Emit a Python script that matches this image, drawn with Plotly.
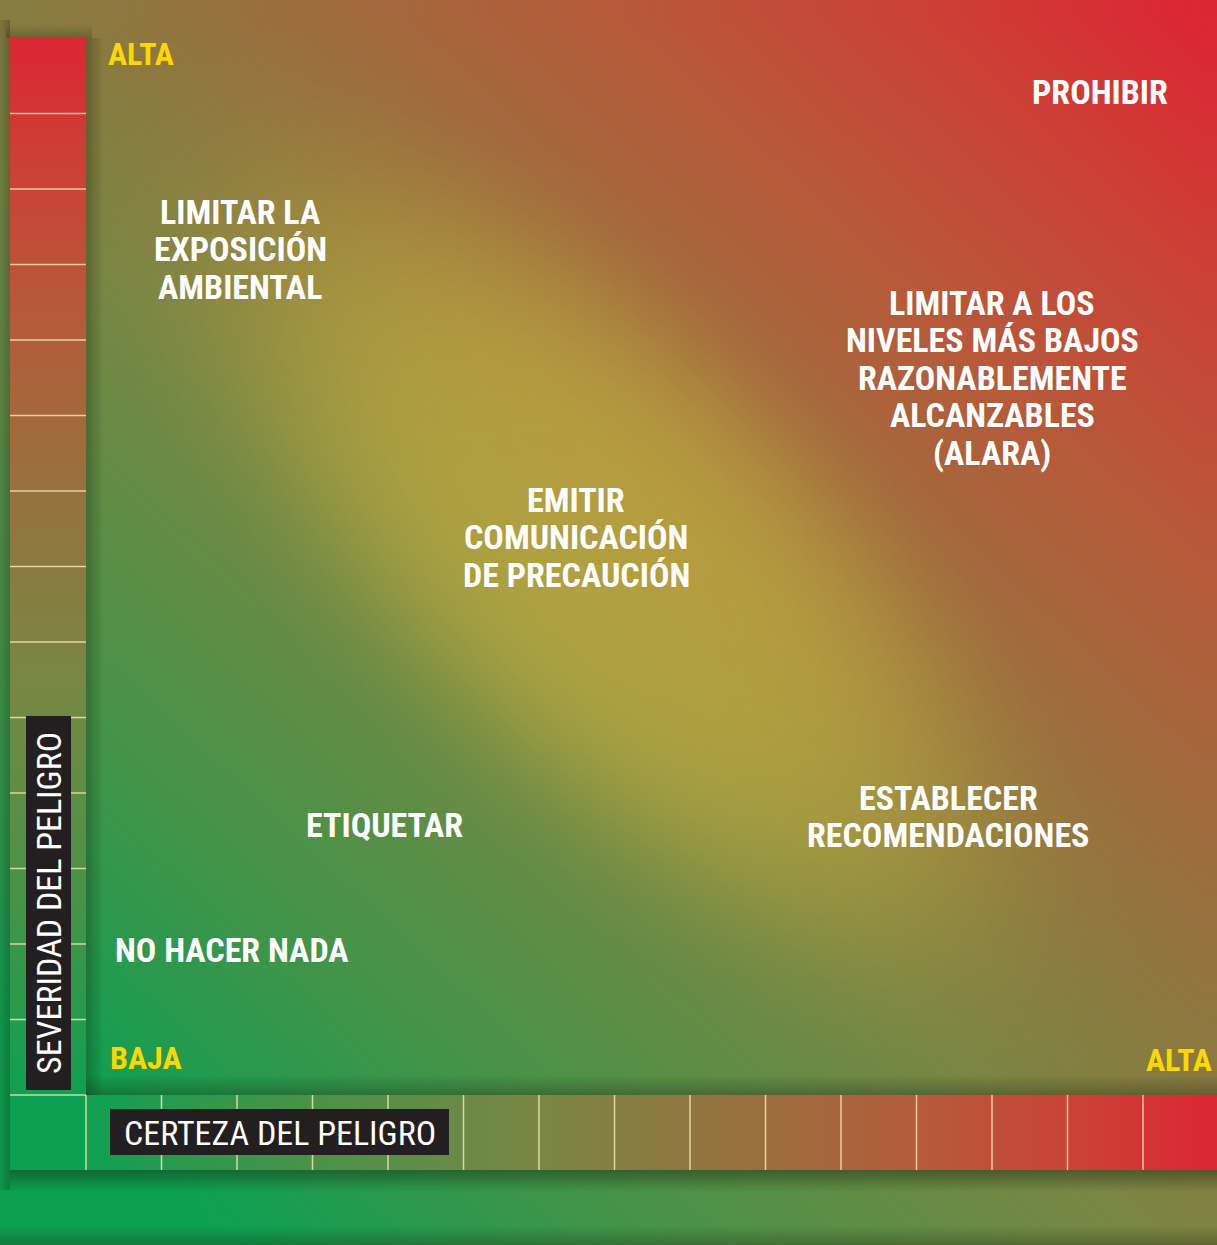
import numpy as np
import plotly.graph_objects as go

# ---------------- chart content ----------------
certainty_cells = 15          # cells on the horizontal scale (BAJA -> ALTA)
severity_cells = 14           # cells on the vertical scale (BAJA -> ALTA)
certainty_ticks = list(range(0, 15))
severity_ticks = list(range(0, 14))

action_lines = [
    ["PROHIBIR"],
    ["LIMITAR LA", "EXPOSICIÓN", "AMBIENTAL"],
    ["LIMITAR A LOS", "NIVELES MÁS BAJOS", "RAZONABLEMENTE", "ALCANZABLES", "(ALARA)"],
    ["EMITIR", "COMUNICACIÓN", "DE PRECAUCIÓN"],
    ["ETIQUETAR"],
    ["ESTABLECER", "RECOMENDACIONES"],
    ["NO HACER NADA"],
]
action_certainty = [13.43, 2.04, 12.00, 6.49, 3.95, 11.42, 1.93]
action_severity = [13.28, 11.20, 9.50, 7.39, 3.58, 3.69, 1.92]

scale_labels = ["ALTA", "BAJA", "ALTA"]
severity_title = "SEVERIDAD DEL PELIGRO"
certainty_title = "CERTEZA DEL PELIGRO"

# ---------------- geometry / style ----------------
U = 75.5                      # pixels per scale cell
X0P, Y0P = 86, 1095           # pixel position of the origin
W, H = 1217, 1245


def dx(p):
    return (p - X0P) / U


def dy(p):
    return (Y0P - p) / U


FONT_B = "Roboto Condensed, DejaVu Sans Condensed, sans-serif"
YELLOW = "#FDD800"
grad = [
    [0.00, "rgb(14,160,82)"],
    [0.10, "rgb(46,152,76)"],
    [0.20, "rgb(74,146,72)"],
    [0.30, "rgb(98,140,70)"],
    [0.40, "rgb(122,134,68)"],
    [0.50, "rgb(138,122,64)"],
    [0.60, "rgb(156,110,62)"],
    [0.74, "rgb(182,90,58)"],
    [0.88, "rgb(204,64,54)"],
    [1.00, "rgb(220,38,52)"],
]

fig = go.Figure()


def centers(e):
    e = np.asarray(e)
    return (e[:-1] + e[1:]) / 2


# background diagonal gradient (decorative)
xe = np.linspace(dx(0), dx(W), 41)
ye = np.linspace(dy(H), dy(0), 41)
XC, YC = np.meshgrid(centers(xe), centers(ye))
T = np.clip((XC / certainty_cells + YC / severity_cells) / 2, 0, 1)
fig.add_trace(go.Heatmap(x=xe, y=ye, z=T, colorscale=grad, zmin=0, zmax=1,
                         zsmooth="best", showscale=False, hoverinfo="skip"))

# soft yellow glow across the middle (decorative)
bxe = np.linspace(dx(86), dx(W), 81)
bye = np.linspace(dy(1095), dy(0), 81)
BX, BY = np.meshgrid(centers(bxe) * U + X0P, Y0P - centers(bye) * U)
cx, cy = 610, 560
uu = ((BX - cx) + (BY - cy)) / np.sqrt(2)
vv = ((BX - cx) - (BY - cy)) / np.sqrt(2)
G = np.exp(-(((uu / 470) ** 2 + (vv / 205) ** 2) ** 2))
fig.add_trace(go.Heatmap(x=bxe, y=bye, z=G,
                         colorscale=[[0, "rgba(208,184,64,0)"], [1, "rgba(208,184,64,0.58)"]],
                         zmin=0, zmax=1, zsmooth="best", showscale=False, hoverinfo="skip"))

# shadows


def shadow(x0p, x1p, y0p, y1p, a0, a1, along):
    n = 10
    if along == "y":
        xe_ = [dx(x0p), dx((x0p + x1p) / 2), dx(x1p)]
        ye_ = [dy(p) for p in np.linspace(y0p, y1p, n + 1)]
        vals = np.linspace(a0, a1, n)
        z = [[v, v] for v in vals]
    else:
        xe_ = [dx(p) for p in np.linspace(x0p, x1p, n + 1)]
        ye_ = [dy(y0p), dy((y0p + y1p) / 2), dy(y1p)]
        vals = list(np.linspace(a0, a1, n))
        z = [vals, vals]
    fig.add_trace(go.Heatmap(x=xe_, y=ye_, z=z,
                             colorscale=[[0, "rgba(20,30,10,0)"], [1, "rgba(20,30,10,1)"]],
                             zmin=0, zmax=1, zsmooth="best", showscale=False, hoverinfo="skip"))


shadow(10, W, 1170, 1192, 0.40, 0.0, "y")      # under horizontal scale
shadow(86, W, 1074, 1095, 0.0, 0.30, "y")      # panel bottom edge
shadow(86, 104, 38, 1095, 0.28, 0.0, "x")      # panel left edge
shadow(0, 10, 20, 1190, 0.10, 0.28, "x")       # left of vertical scale
shadow(6, 92, 24, 38, 0.0, 0.25, "y")          # above vertical scale
shadow(0, W, 1225, 1245, 0.0, 0.28, "y")       # bottom of page

# horizontal (certainty) scale strip
hx = np.linspace(0, dx(W), 61)
hz = centers(hx) / certainty_cells
fig.add_trace(go.Heatmap(x=hx, y=[dy(1170), dy(1132), dy(1095)], z=[hz, hz],
                         colorscale=grad, zmin=0, zmax=1, zsmooth="best",
                         showscale=False, hoverinfo="skip"))
# vertical (severity) scale strip
vy = np.linspace(0, dy(37), 57)
vz = centers(vy) / severity_cells
fig.add_trace(go.Heatmap(x=[dx(10), dx(48), dx(86)], y=vy, z=[[v, v] for v in vz],
                         colorscale=grad, zmin=0, zmax=1, zsmooth="best",
                         showscale=False, hoverinfo="skip"))
# corner cell
fig.add_trace(go.Heatmap(x=[dx(10), dx(48), dx(86)], y=[dy(1170), dy(1132), dy(1095)],
                         z=[[0.0, 0.0], [0.0, 0.0]], colorscale=grad, zmin=0, zmax=1,
                         zsmooth="best", showscale=False, hoverinfo="skip"))

# cell separators
lx, ly = [], []
for c in certainty_ticks:
    lx += [c, c, None]
    ly += [dy(1170), 0, None]
for s in severity_ticks:
    lx += [dx(10), 0, None]
    ly += [s, s, None]
fig.add_trace(go.Scatter(x=lx, y=ly, mode="lines",
                         line=dict(color="rgba(255,232,185,0.8)", width=1.5),
                         hoverinfo="skip", showlegend=False))

# axis title boxes
fig.add_shape(type="rect", x0=dx(26), x1=dx(71), y0=dy(1090), y1=dy(716),
              fillcolor="#231f20", line=dict(width=0), layer="above")
fig.add_shape(type="rect", x0=dx(110), x1=dx(449), y0=dy(1155), y1=dy(1109),
              fillcolor="#231f20", line=dict(width=0), layer="above")

fig.add_annotation(x=dx(49), y=dy(903), text=severity_title, textangle=-90,
                   showarrow=False, xanchor="center", yanchor="middle",
                   font=dict(family=FONT_B, size=34, color="white"))
fig.add_annotation(x=dx(280), y=dy(1133), text=certainty_title,
                   showarrow=False, xanchor="center", yanchor="middle",
                   font=dict(family=FONT_B, size=34, color="white"))

# action labels
PITCH = 37.5 / U
for lines, cx_, cy_ in zip(action_lines, action_certainty, action_severity):
    n = len(lines)
    for i, line in enumerate(lines):
        fig.add_annotation(x=cx_, y=cy_ + (n - 1) / 2 * PITCH - i * PITCH, text=line,
                           showarrow=False, xanchor="center", yanchor="middle",
                           font=dict(family=FONT_B, size=34, color="white", weight=700))

# scale end labels
fig.add_annotation(x=dx(106), y=dy(54), text=scale_labels[0], showarrow=False,
                   xanchor="left", yanchor="middle",
                   font=dict(family=FONT_B, size=32, color=YELLOW, weight=700))
fig.add_annotation(x=dx(108), y=dy(1058), text=scale_labels[1], showarrow=False,
                   xanchor="left", yanchor="middle",
                   font=dict(family=FONT_B, size=32, color=YELLOW, weight=700))
fig.add_annotation(x=dx(1214), y=dy(1060), text=scale_labels[2], showarrow=False,
                   xanchor="right", yanchor="middle",
                   font=dict(family=FONT_B, size=32, color=YELLOW, weight=700))

fig.update_layout(
    width=W, height=H,
    margin=dict(l=0, r=0, t=0, b=0),
    paper_bgcolor="rgb(60,120,60)", plot_bgcolor="rgb(60,120,60)",
    showlegend=False, hovermode=False,
    xaxis=dict(range=[dx(0), dx(W)], visible=False, fixedrange=True),
    yaxis=dict(range=[dy(H), dy(0)], visible=False, fixedrange=True),
)

fig.write_html("out.html", config={"displayModeBar": False},
               post_script="document.body.style.margin='0';")
